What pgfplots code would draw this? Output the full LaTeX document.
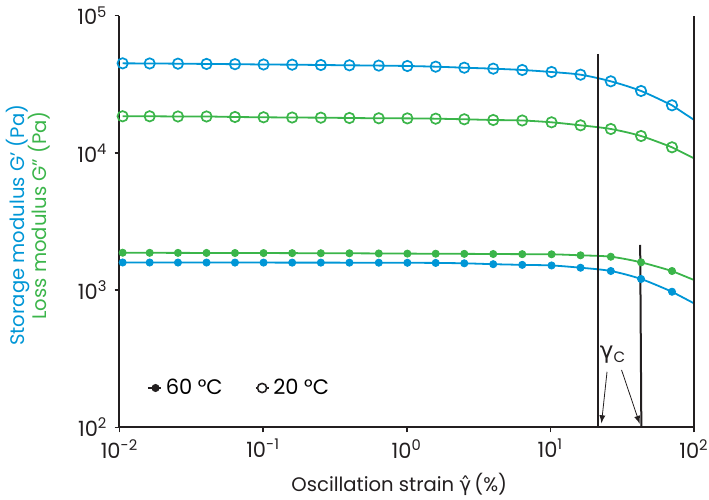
\documentclass[border=0pt]{standalone}
\usepackage{pgfplots}
\pgfplotsset{compat=1.18}
\usepackage{fontspec}
\setmainfont{Poppins}
\newfontfamily\greekfont{DejaVu Sans}
\definecolor{tablue}{RGB}{0,150,214}
\definecolor{tagreen}{RGB}{59,181,74}
\definecolor{axgray}{RGB}{35,31,32}

\pgfplotstableread{
x y
0.01052 44950
0.01622 44850
0.02553 44700
0.04036 44500
0.0637 44320
0.1007 44090
0.1593 43950
0.2523 43720
0.3990 43500
0.6387 43280
1.01 42990
1.591 42500
2.515 41780
4.0 41100
6.37 40210
10.19 38870
16.22 37150
26.35 33250
42.8 28270
70.3 22230
}\storagetwenty
\pgfplotstableread{
x y
0.01052 18490
0.01622 18490
0.02553 18430
0.04036 18430
0.0637 18270
0.1007 18180
0.1593 18110
0.2523 18060
0.3990 17970
0.6387 17880
1.01 17850
1.591 17760
2.515 17580
4.0 17370
6.37 17230
10.19 16710
16.22 15890
26.35 14940
42.8 13280
70.3 10990
}\losstwenty
\pgfplotstableread{
x y
0.01052 1873
0.01622 1870
0.02553 1868
0.04036 1866
0.0637 1864
0.1007 1862
0.1593 1860
0.2523 1857
0.3990 1855
0.6387 1850
1.01 1845
1.591 1842
2.515 1838
4.0 1833
6.37 1828
10.19 1824
16.22 1793
26.35 1751
42.8 1594
70.3 1378
}\losssixty
\pgfplotstableread{
x y
0.01052 1590
0.01622 1589
0.02553 1588
0.04036 1588
0.0637 1587
0.1007 1587
0.1593 1586
0.2523 1586
0.3990 1585
0.6387 1584
1.01 1582
1.591 1578
2.515 1568
4.0 1545
6.37 1528
10.19 1512
16.22 1456
26.35 1378
42.8 1205
70.3 973
}\storagesixty

\begin{document}
\begin{tikzpicture}
\begin{axis}[
  scale only axis, width=287.25pt, height=205.8pt,
  xmode=log, ymode=log,
  xmin=0.01, xmax=100, ymin=100, ymax=100000,
  axis x line*=bottom, axis y line*=left,
  axis line style={axgray, line width=1pt},
  tick align=outside, major tick length=2.5pt,
  xminorticks=false, yminorticks=false,
  tick style={axgray, line width=0.8pt},
  xtick={0.01,0.1,1,10,100},
  xticklabels={10\textsuperscript{-2},10\textsuperscript{-1},10\textsuperscript{0},10\textsuperscript{1},10\textsuperscript{2}},
  ytick={100,1000,10000,100000},
  yticklabels={10\textsuperscript{2},10\textsuperscript{3},10\textsuperscript{4},10\textsuperscript{5}},
  ticklabel style={font=\fontsize{10.5}{12}\selectfont, text=axgray},
  clip=false,
  legend style={at={(rel axis cs:0.037,0.0955)}, anchor=west, draw=none, fill=none,
    font=\fontsize{10.5}{12}\selectfont, legend columns=2,
    /tikz/every even column/.append style={column sep=14pt}},
  legend cell align=left,
]
% lines (smooth, extended to x=100)
\addplot[tablue, line width=0.9pt, smooth, no marks, forget plot] table[x=x,y=y] {\storagetwenty} -- (axis cs:100,17400);
\addplot[tagreen, line width=0.9pt, smooth, no marks, forget plot] table[x=x,y=y] {\losstwenty} -- (axis cs:100,9130);
\addplot[tagreen, line width=0.9pt, smooth, no marks, forget plot] table[x=x,y=y] {\losssixty} -- (axis cs:100,1185);
\addplot[tablue, line width=0.9pt, smooth, no marks, forget plot] table[x=x,y=y] {\storagesixty} -- (axis cs:100,801);
% markers
\addplot[only marks, mark=*, mark size=1.8pt, tablue, forget plot] table[x=x,y=y] {\storagesixty};
\addplot[only marks, mark=*, mark size=1.8pt, tagreen, forget plot] table[x=x,y=y] {\losssixty};
\addplot[only marks, mark=o, mark size=2.6pt, tablue, line width=0.85pt, forget plot] table[x=x,y=y] {\storagetwenty};
\addplot[only marks, mark=o, mark size=2.6pt, tagreen, line width=0.85pt, forget plot] table[x=x,y=y] {\losstwenty};
% vertical critical-strain lines
\addplot[axgray, line width=1pt, forget plot] coordinates {(21.3,52600) (21.3,100)};
\addplot[axgray, line width=1pt, forget plot] coordinates {(42.2,2132) (43.0,100)};
% right spine
\draw[axgray, line width=1pt] (rel axis cs:1,0) -- (rel axis cs:1,1);
% gamma_c annotation
\node[font=\fontsize{11.5}{12}\selectfont, text=axgray] at (axis cs:27.3,336) {{\greekfont γ}\textsubscript{\fontsize{7.5}{8}\selectfont C}};
\draw[axgray, line width=0.4pt, -latex] (axis cs:24.8,254) -- (axis cs:22.7,107);
\draw[axgray, line width=0.4pt, -latex] (axis cs:31.3,262) -- (axis cs:41.9,106);
% legend
\addlegendimage{legend image code/.code={\draw[axgray, line width=0.8pt] (0pt,0pt) -- (6.5pt,0pt); \fill[axgray] (3.8pt,0pt) circle (1.8pt);}}
\addlegendentry{60 °C}
\addlegendimage{legend image code/.code={\draw[axgray, line width=0.8pt] (0pt,0pt) -- (6.5pt,0pt); \draw[axgray, line width=0.8pt, fill=white] (3.3pt,0pt) circle (2.3pt);}}
\addlegendentry{20 °C}
% anchor coordinates for labels and bounding box
\coordinate (ylabA) at ([xshift=-50.75pt]rel axis cs:0,0.491);
\coordinate (ylabB) at ([xshift=-40.25pt]rel axis cs:0,0.515);
\coordinate (xlab) at ([yshift=-31.85pt]rel axis cs:0.487,0);
\coordinate (bbl) at ([xshift=-59.75pt,yshift=-35.85pt]rel axis cs:0,0);
\coordinate (btr) at ([xshift=7.5pt,yshift=7.85pt]rel axis cs:1,1);
\end{axis}
\node[rotate=90, text=tablue, font=\fontsize{9.8}{12}\selectfont] at (ylabA) {Storage modulus G’ (Pa)};
\node[rotate=90, text=tagreen, font=\fontsize{9.8}{12}\selectfont] at (ylabB) {Loss modulus G” (Pa)};
\node[anchor=base, text=axgray, font=\fontsize{9.8}{12}\selectfont] at (xlab) {Oscillation strain {\greekfont γ̂}\,(\%)};
\pgfresetboundingbox
\useasboundingbox (bbl) rectangle (btr);
\end{tikzpicture}
\end{document}
